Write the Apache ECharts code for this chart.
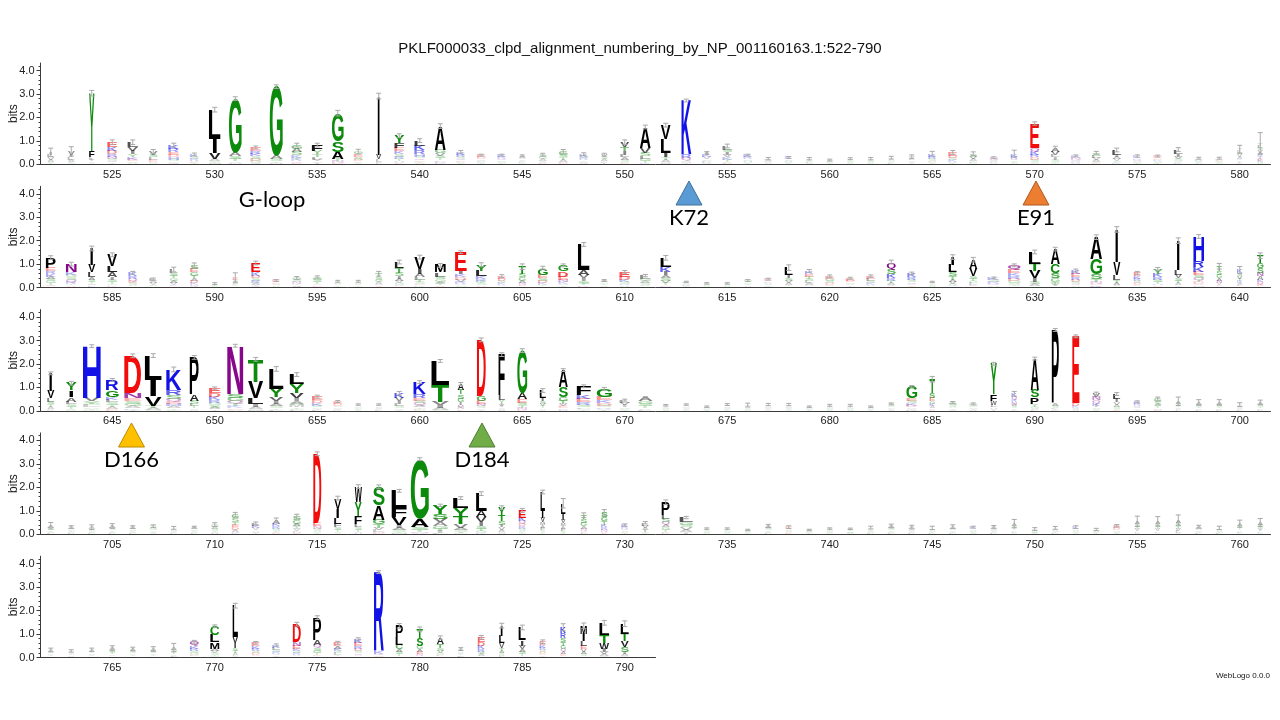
<!DOCTYPE html>
<html><head><meta charset="utf-8">
<script src="https://cdn.jsdelivr.net/npm/echarts@6/dist/echarts.min.js"></script>
<style>html,body{margin:0;padding:0;background:#fff}#chart{width:1280px;height:720px}</style>
</head><body><div id="chart"></div>
<script>
const chartTitle = 'PKLF000033_clpd_alignment_numbering_by_NP_001160163.1:522-790';
const rowStarts = [522, 582, 642, 702, 762];
const rowLengths = [60, 60, 60, 60, 30];
const yTicks = [0, 1, 2, 3, 4];

// stacks: letter + height (bits); err: half-width of error bar (bits); widths: relative stack width
const row1Stacks = [
"I.12 V.1 L.1 A.08 S.06 T.05","V.14 I.12 L.1 A.08 T.06 S.05","Y2.45 F.28 L.1 I.08 V.07 A.05",
"E.2 K.16 D.14 R.12 N.1 Q.08 S.08 T.06","L.2 V.18 I.14 Y.12 K.1 E.08 A.06 S.06","V.14 S.12 L.1 E.08 A.06 G.05",
"K.16 R.14 E.12 H.1 D.1 S.08 Q.06 G.06","K.1 R.08 S.08 E.06 A.06 T.04","L1.25 I.6 V.25 A.08 S.06 T.05 M.04",
"G2.3 A.15 S.12 T.1 C.07 N.06","E.14 K.12 R.12 D.1 S.1 G.08 Q.06","G2.95 A.14 S.1 T.07 N.05",
"G.16 S.14 A.14 K.1 R.08 T.08 E.06 Q.06","F.26 Y.14 T.12 L.1 V.08 I.06 S.06","G1.2 S.45 A.3 T.1 N.08 E.05",
"E.12 G.12 S.1 D.08 T.06 A.06","I2.5 V.2 L.1 M.06 F.05","Y.3 F.22 E.15 K.12 R.1 S.1 T.08 H.06 A.05 D.04",
"L.22 K.2 R.16 H.1 Q.08 S.08 T.06 E.06 A.05","A1.0 G.16 V.12 S.1 T.08 N.06 L.06 K.05","K.12 R.1 Q.08 S.08 E.06 A.05 T.04",
"E.1 D.08 K.06 S.06 A.05 T.04","K.1 R.08 S.06 Q.06 A.05 T.04","A.08 S.07 T.06 V.06 L.05 G.04",
"S.1 A.08 G.08 T.06 V.05 E.04","G.14 S.12 T.1 A.08 N.06 E.05","K.1 R.08 S.08 A.06 T.06 Q.05",
"V.1 A.08 S.08 T.06 L.05 I.04","V.2 T.18 I.15 L.12 A.1 S.08 G.06 E.05","A.9 V.2 S.14 L.12 G.1 T.08 K.05",
"V.6 L.58 I.2 T.1 A.08 S.06 M.05","K2.3 R.15 Q.12 S.06 N.05 T.04","K.1 I.1 V.08 L.06 S.06 R.05 A.04",
"L.15 I.12 S.12 K.1 V.1 T.08 A.06 E.05","K.1 R.08 H.06 S.06 A.05 T.04","K.06 R.05 S.05 A.04 T.04",
"K.08 R.06 S.06 A.05 T.04","A.06 S.05 T.05 V.04 L.04","A.05 S.05 T.04 G.04",
"A.06 S.05 T.05 G.04 V.04","A.06 S.05 T.05 G.04 V.04","V.07 A.06 S.06 T.05 L.04",
"V.08 L.07 A.06 S.06 T.05","K.12 R.1 S.08 E.06 A.05 T.04","E.14 D.1 K.08 S.08 A.06 T.05",
"S.12 V.1 A.08 T.06 L.05 G.04","N.08 Q.06 K.05 S.05 A.04","K.12 R.1 Q.08 S.06 T.05 A.04",
"E1.03 Q.16 K.14 R.12 D.1 S.08 T.06 A.05","A.16 V.14 I.1 L.1 S.08 T.06 G.05","N.08 K.08 Q.06 R.05 S.05 A.04",
"S.12 L.1 A.08 V.08 T.06 E.05","L.2 I.1 V.08 A.08 S.06 T.05 K.04","K.08 R.07 Q.06 S.05 A.05 T.04",
"E.08 D.07 K.06 S.05 A.05 T.04","L.18 I.12 V.1 S.08 A.06 T.05 K.04","K.07 R.06 S.05 A.04 T.04",
"E.07 D.06 S.05 A.04 T.04","A.08 V.08 S.08 L.08 T.08 G.07 K.07 E.05 I.05","A.1 V.1 S.1 L.1 T.1 G.08 K.08 E.08 I.08 R.08"
];
const row1Err = [.18,.2,.12,.1,.1,.08,.08,.06,.1,.08,.06,.08,.08,.08,.12,.1,.12,.08,.08,.1,.06,.04,.04,.04,.06,.08,.06,.06,.1,.08,
.08,.06,.05,.08,.04,.05,.04,.05,.04,.04,.05,.06,.08,.1,.08,.08,.04,.15,.07,.08,.04,.06,.08,.05,.04,.08,.04,.04,.17,.45];
const row1Widths = [.4,.4,.3,.55,.6,.5,.6,.5,.65,.7,.6,.72,.6,.6,.65,.5,.3,.55,.6,.6,.5,.5,.5,.4,.45,.5,.5,.4,.5,.6,
.55,.55,.55,.55,.5,.45,.45,.4,.4,.4,.4,.4,.35,.45,.5,.45,.45,.4,.5,.5,.55,.5,.5,.5,.5,.5,.45,.45,.3,.3];

const row2Stacks = [
"P.43 E.14 K.12 R.12 S.1 A.1 T.08 G.08 Q.06 D.05","N.35 K.12 Q.1 S.1 G.1 R.08 T.06 A.05 E.04","I.7 V.3 L.22 A.12 S.1 T.08 M.06 F.05 K.04",
"V.5 L.25 A.2 I.12 S.1 T.08 G.06 K.05 E.04","K.14 R.12 Q.1 S.08 E.08 A.06 T.05","L.1 V.08 A.08 S.06 T.05",
"L.14 T.12 S.12 A.1 G.1 V.08 K.06 E.05","S.16 G.14 E.14 T.12 D.1 A.1 K.08 N.06 Q.05","A.05 S.04 G.04 T.04",
"E.1 A.08 S.08 T.06 L.06 G.05","E.4 K.14 D.12 R.1 S.1 A.08 T.06 Q.05","E.08 D.07 S.06 A.05 T.04",
"G.1 N.08 S.08 T.06 A.05 Q.04","G.12 S.1 T.08 A.06 E.05 N.04","G.07 S.06 T.05 A.05 V.04",
"A.07 S.06 T.05 V.05 L.04","T.14 S.12 G.1 A.08 N.06 V.05 E.04","L.25 T.2 S.15 I.12 A.1 G.08 V.08 K.06 E.05",
"V.5 I.2 A.15 L.12 T.1 S.08 E.06 K.05 G.04","M.3 L.18 S.12 G.1 T.08 A.08 V.05 E.04","E.8 I.15 K.12 V.1 D.1 R.08 S.06 A.06 T.04",
"Y.26 L.24 K.12 R.1 S.08 T.08 A.06 E.04","E.12 D.1 K.08 S.08 A.06 T.05","T.3 S.16 G.14 A.1 N.08 E.06 V.05",
"G.3 E.14 S.12 D.1 K.08 T.06 A.05","G.26 D.22 E.14 N.1 K.08 S.06 T.05 A.04","L1.1 A.2 V.15 I.12 S.1 T.08 K.05 E.04",
"A.08 S.07 T.06 V.05 L.04","E.2 D.14 K.1 S.08 R.06 A.05 T.04","L.14 G.1 S.08 A.08 V.06 T.05",
"L.4 K.2 I.15 S.12 A.12 V.1 T.08 E.06 R.04","K.06 R.05 S.05 A.04 T.04","A.05 S.05 T.04 G.04",
"A.05 S.05 T.04 G.04","G.08 S.07 T.06 A.05 N.04","E.08 K.07 S.06 A.06 T.05 L.04",
"L.3 I.14 S.12 V.1 A.08 T.06 G.05","E.12 K.12 S.1 T.1 A.08 L.08 G.06 R.05","E.12 G.1 D.08 S.08 A.06 T.05",
"E.1 D.08 S.07 A.06 T.05 K.04","E.12 L.1 K.08 S.08 A.06 T.05","Q.3 S.2 K.18 R.12 T.1 A.08 V.06 E.05",
"K.16 R.12 S.1 Q.08 A.06 T.05 E.04","A.06 S.05 T.05 G.04 V.04","I.34 L.3 S.18 T.14 V.1 A.1 G.08 K.06",
"A.4 V.3 S.12 T.1 L.08 G.08 K.06 E.05","K.1 R.08 S.08 Q.06 A.05 T.04","Q.2 E.14 R.12 K.12 D.1 S.08 G.08 T.06 A.05",
"L.5 T.33 V.3 I.15 S.1 A.08 G.06","A.65 C.38 S.22 G.14 T.12 V.08 L.05","E.14 K.14 R.12 D.1 S.08 Q.06 A.05 T.04",
"A.95 G.65 S.2 T.12 N.08 E.06 K.05 Q.04","I1.4 V.55 L.2 T.12 A.1 S.06 M.05","E.14 K.12 R.1 D.08 S.08 A.06 T.05",
"Y.2 K.15 R.12 S.1 T.08 H.06 A.05 E.04","I1.25 L.2 V.15 S.12 T.1 A.08 G.06 K.04","H1.05 R.25 K.2 E.15 S.12 Q.1 D.08 T.08 A.06 N.05 G.04",
"T.2 S.16 G.14 A.12 N.1 V.08 E.06 K.05","K.14 V.12 S.12 T.1 A.08 R.08 L.06 E.05","T.3 G.22 S.2 N.16 A.14 Q.1 K.1 E.08 V.06"
];
const row2Err = [.08,.08,.1,.08,.06,.04,.1,.1,.04,.2,.08,.04,.06,.05,.04,.04,.1,.08,.08,.08,.06,.08,.06,.12,.06,.06,.08,.04,.06,.05,
.1,.03,.03,.03,.04,.04,.12,.06,.05,.04,.05,.08,.05,.03,.1,.1,.04,.06,.08,.08,.06,.1,.12,.06,.06,.12,.08,.12,.15,.12];
const row2Widths = [.55,.6,.4,.55,.5,.45,.45,.45,.4,.3,.5,.45,.5,.5,.45,.4,.4,.5,.6,.6,.65,.6,.45,.4,.55,.55,.65,.45,.6,.6,
.6,.45,.4,.4,.45,.45,.45,.5,.5,.5,.5,.5,.5,.4,.45,.45,.7,.7,.65,.5,.5,.65,.4,.4,.55,.4,.6,.3,.3,.35];

const row3Stacks = [
"I.75 V.3 L.15 S.12 T.1 A.08 G.06 K.04","Y.31 I.29 A.18 L.12 S.1 T.08 V.06 G.04","H2.2 V.15 Y.1 L.08 S.08 A.06 T.05 G.04",
"R.42 G.3 L.12 K.12 S.1 A.08 T.08 E.06 D.04","D1.6 N.22 S.12 E.12 G.1 A.08 K.06 T.05","L1.03 I.7 V.4 T.1 A.08 S.05",
"K.9 R.2 S.16 Q.12 H.1 E.1 A.08 T.06 G.05","P1.6 A.25 S.14 L.1 T.08 V.06 G.05","E.2 D.16 K.14 R.12 S.1 G.1 A.08 T.06",
"N2.05 S.18 G.14 Q.12 T.1 K.08 E.06 A.05","T.95 V.7 L.25 I.12 A.08 S.06 M.04","L.85 Y.35 V.18 I.12 A.1 S.08 T.06 F.05",
"L.42 Y.38 V.22 I.12 A.1 M.08 S.08 T.06 G.05 F.04","E.16 D.12 K.1 S.08 A.06 T.05 L.04","E.1 D.08 S.07 A.06 T.05 K.04",
"A.07 S.06 T.05 G.05 V.04","A.07 S.06 T.05 V.05 L.04","K.2 V.14 I.12 L.1 S.08 A.06 T.05",
"K.5 R.18 E.12 Q.1 S.1 A.08 T.06 D.05 G.04","L1.03 T.7 V.15 I.12 A.08 S.05","A.25 T.2 S.18 G.16 I.12 V.1 N.08 L.06",
"D2.4 G.2 E.14 N.1 S.08 A.06 T.05","F1.75 L.2 Y.12 I.1 V.08 S.06 A.05 M.04","G1.82 A.25 E.15 S.12 T.1 N.08 D.05",
"L.3 I.16 S.12 V.1 T.08 A.06 G.05","A.7 S.45 G.16 T.14 V.1 E.08 K.06 N.05","F.38 K.16 E.14 R.12 S.1 L.06 A.05 T.04",
"G.35 E.14 K.12 D.1 S.08 R.06 A.05 T.04","L.12 V.1 I.08 A.06 S.06 T.04","A.16 G.12 S.1 T.08 V.06 L.05",
"A.06 S.05 T.05 V.04 G.04","A.07 S.06 T.05 V.05 G.04","A.05 S.05 T.04 G.04",
"A.07 S.06 T.05 V.05 G.04","A.06 S.06 T.05 G.04 V.04","A.07 S.06 T.05 V.05 G.04",
"A.07 S.06 T.05 V.05 G.04","A.05 S.05 T.04 G.04","A.06 S.05 T.05 V.04 G.04",
"A.06 S.05 T.05 V.04 G.04","A.05 S.05 T.04 G.04","S.08 G.07 A.06 T.05 V.04",
"G.48 E.12 K.1 S.1 D.08 A.06 T.05 R.04","T.6 S.2 E.14 G.12 K.1 A.08 D.06 N.05","G.1 S.08 A.07 T.06 V.05",
"G.08 S.07 A.06 T.05 V.04","Y1.3 F.28 W.18 L.1 H.06 S.05 I.04","K.14 Q.12 N.1 R.1 S.08 A.08 T.06 E.05",
"A1.35 S.31 P.29 T.1 G.08 V.06 L.04","P3.15 A.1 S.08 L.05 T.04 E.03","E2.85 D.12 K.08 S.06 Q.04 A.03",
"V.15 N.14 Q.12 K.1 I.08 S.06 A.05 T.04","L.22 I.14 V.1 S.08 A.08 T.06 E.04","K.1 R.08 Q.06 S.06 A.05 T.04",
"G.14 S.1 T.08 A.08 N.06 E.05","A.1 S.08 T.07 V.06 L.05 G.05","A.1 S.08 T.07 V.06 L.05",
"A.1 S.08 T.07 V.06 L.05","A.07 S.06 T.05 V.05 L.04","A.1 S.08 T.07 V.06 L.05"
];
const row3Err = [.06,.08,.06,.06,.08,.08,.1,.08,.06,.06,.08,.1,.08,.06,.04,.03,.03,.08,.06,.06,.06,.08,.08,.08,.08,.06,.06,.06,.04,.04,
.03,.03,.03,.04,.08,.05,.05,.03,.04,.04,.03,.04,.05,.12,.04,.04,.06,.1,.06,.06,.06,.06,.06,.04,.08,.18,.12,.12,.08,.1];
const row3Widths = [.4,.6,1,.7,.95,.95,.85,.5,.65,.9,.85,.8,.8,.6,.5,.4,.4,.55,.7,1,.35,.5,.35,.55,.35,.5,.8,.85,.6,.8,
.4,.4,.4,.4,.4,.4,.4,.4,.4,.4,.4,.4,.6,.3,.45,.5,.35,.3,.45,.4,.4,.45,.4,.4,.4,.3,.35,.35,.35,.35];

const row4Stacks = [
"A.1 S.08 T.07 V.06 L.05","A.08 S.07 T.06 V.05 L.04","A.08 S.07 T.06 V.05 L.04",
"A.09 S.08 T.07 V.06 L.05","A.08 S.07 T.06 V.05 L.04","G.08 S.08 A.07 T.06 V.05",
"A.07 S.06 T.05 V.05 L.04","A.08 S.07 T.06 V.05 L.04","G.1 S.08 A.08 T.06 V.05 N.04",
"G.16 S.14 E.12 T.12 D.1 A.08 N.06 K.05","L.12 K.1 V.08 S.06 A.06 T.05","A.14 K.12 R.1 S.08 T.06 V.05 E.04",
"S.16 G.14 A.12 T.1 V.08 L.06 N.05 E.04","D2.95 E.15 N.1 S.08 G.06 A.05 T.04","V.45 I.4 L.25 F.15 S.1 T.08 A.06 Y.05",
"W.65 Y.6 F.35 L.14 S.1 T.08 A.06 H.05","S.8 A.6 G.2 T.14 V.1 L.08 N.06 E.04","L.75 F.36 V.34 I.12 A.1 S.08 T.06 M.04",
"G2.55 A.35 S.12 T.08 N.06 V.04","Y.35 S.22 V.16 A.14 G.12 T.1 I.08 L.06","L.42 Y.4 T.3 V.14 A.1 S.08 I.06 G.04",
"L.75 A.25 V.22 I.15 S.12 T.1 G.08 K.06","Y.3 T.26 S.16 I.12 V.1 A.08 G.06 N.05","E.3 K.16 Q.12 R.1 D.1 S.08 A.06 T.05 G.04",
"L.8 I.3 V.2 M.12 F.1 A.1 S.08 T.06 C.04","L.45 I.25 V.16 M.12 F.1 A.1 S.08 T.06","T.18 S.16 G.14 A.1 N.08 V.06 E.05 L.04",
"S.2 G.18 T.14 K.12 R.1 N.08 A.06 E.05","K.1 R.08 S.06 Q.06 A.05 T.04","L.12 V.1 I.08 A.08 S.06 T.05",
"P.55 L.16 S.14 Q.12 G.1 A.1 T.08 E.06 K.05","L.2 G.12 V.1 S.1 A.08 T.06 I.05","A.06 S.05 T.05 G.04 V.04",
"A.06 S.05 T.05 G.04 V.04","A.05 S.05 T.04 G.04","A.09 S.08 T.07 V.06 L.05",
"E.08 S.07 A.06 T.05 D.04","A.05 S.05 T.04 G.04","A.06 S.05 T.05 G.04 V.04",
"A.06 S.05 T.05 G.04 V.03","A.07 S.06 T.06 V.05 L.04","A.09 S.08 T.07 V.06 L.05",
"A.08 S.07 T.06 V.05 L.04","A.07 S.06 T.05 V.05 L.04","A.08 S.07 T.06 V.06 L.05",
"K.08 A.07 S.06 T.05 V.04","A.08 S.07 T.06 V.05 L.04","A.1 S.09 T.08 V.07 L.06 G.05",
"A.06 S.05 T.04 G.04 V.03","A.07 S.06 T.05 V.05 L.04","K.08 S.07 A.06 T.05 V.04",
"A.05 S.05 T.04 G.04 V.02","E.1 D.08 S.07 A.06 T.05","A.12 S.11 T.1 V.09 L.07 G.06",
"A.12 S.11 T.1 V.09 L.07 G.06","A.13 S.12 T.11 V.1 L.08 G.06","A.08 S.07 T.06 V.06 L.05",
"A.07 S.06 T.05 V.05 L.04","A.1 S.09 T.08 V.07 L.06 G.05","A.11 S.1 T.09 V.08 L.07 G.05"
];
const row4Err = [.14,.06,.1,.1,.06,.06,.06,.04,.08,.1,.05,.1,.1,.08,.08,.08,.08,.06,.06,.05,.06,.08,.08,.08,.08,.2,.1,.12,.05,.05,
.1,.05,.03,.03,.03,.07,.06,.03,.03,.03,.06,.08,.08,.07,.08,.04,.07,.18,.06,.06,.06,.05,.05,.22,.2,.22,.06,.07,.15,.17];
const row4Widths = [.4,.4,.4,.4,.4,.4,.4,.4,.4,.4,.45,.45,.45,.45,.4,.4,.65,.85,1,.85,.85,.6,.4,.4,.25,.25,.35,.35,.4,.4,
.45,.75,.4,.4,.4,.4,.4,.4,.4,.4,.4,.4,.4,.4,.4,.4,.4,.3,.4,.4,.4,.4,.4,.3,.3,.3,.4,.4,.3,.3];

const row5Stacks = [
"A.08 S.07 T.06 V.06 L.05","A.07 S.06 T.06 V.05 L.04","A.08 S.07 T.07 V.06 L.05",
"A.1 S.09 T.08 V.07 L.06","A.09 S.08 T.07 V.07 L.05","A.09 S.08 T.07 V.07 L.05",
"A.1 S.09 T.08 V.07 L.05 G.03","Q.18 K.12 R.1 G.08 S.08 E.06 A.05","C.38 L.3 M.28 A.1 S.08 V.08 T.06 G.05",
"L1.35 V.25 I.2 S.12 T.1 A.08 F.06 G.05","E.14 K.12 R.1 D.08 S.08 A.06 T.05","K.12 L.1 R.08 S.08 A.06 T.05 V.04",
"D.75 N.16 E.14 K.1 R.08 S.08 A.06 T.05","P.95 A.2 Q.14 S.12 G.1 T.08 E.06 K.05","E.14 A.12 K.1 L.08 S.08 T.06 D.05",
"K.16 E.14 R.12 D.1 Q.08 S.08 A.06 T.05","R3.35 K.12 Q.08 S.05 E.04","P.5 L.3 C.2 A.12 S.1 T.08 V.05",
"T.36 S.34 G.14 A.12 E.1 N.08 K.06","A.25 T.18 S.12 V.1 G.08 L.06 E.05","A.08 S.07 T.06 V.06 L.05 G.04",
"E.2 D.16 K.14 R.12 S.1 A.08 T.06","I.45 L.3 V.2 T.12 A.1 S.08 M.06 F.05","L.55 I.22 V.16 A.12 S.1 T.08 K.05",
"E.14 K.12 R.1 D.08 S.08 A.06 T.05 L.04","K.25 R.2 S.18 T.16 G.14 Q.12 A.1 E.08 N.06","M.35 I.3 L.2 E.14 V.12 A.1 S.08 T.06",
"L.5 T.35 W.25 I.14 V.1 A.08 S.06","L.45 T.3 V.25 S.2 I.1 A.08 G.06",""
];
const row5Err = [.08,.05,.07,.1,.08,.1,.18,.06,.06,.1,.05,.05,.08,.08,.06,.05,.06,.1,.1,.08,.06,.08,.1,.1,.08,.15,.12,.1,.12,0];
const row5Widths = [.35,.35,.35,.35,.35,.35,.35,.5,.5,.3,.45,.45,.45,.45,.45,.45,.55,.4,.35,.4,.35,.4,.3,.4,.35,.3,.35,.55,.45,0];

const allStacks = [row1Stacks, row2Stacks, row3Stacks, row4Stacks, row5Stacks];
const allErr = [row1Err, row2Err, row3Err, row4Err, row5Err];
const allWidths = [row1Widths, row2Widths, row3Widths, row4Widths, row5Widths];

// ---------- layout ----------
const gridLeft = 40.5, bandW = 20.5, gridH = 101.3;
const baselines = [164.3, 287.6, 410.9, 534.2, 657.5];
const BITS_MAX = 4.32;
const FULL_LETTER_W = 18;

const FONT_FAMILY = 'Liberation Sans';
const FONT_SIZE = 100;
const mctx = document.createElement('canvas').getContext('2d');
mctx.font = 'bold ' + FONT_SIZE + 'px "' + FONT_FAMILY + '"';
mctx.textAlign = 'center';
mctx.textBaseline = 'middle';
const metricCache = {};
function metrics(ch) {
  if (!metricCache[ch]) {
    const m = mctx.measureText(ch);
    metricCache[ch] = {l: m.actualBoundingBoxLeft, r: m.actualBoundingBoxRight,
                       a: m.actualBoundingBoxAscent, d: m.actualBoundingBoxDescent};
  }
  return metricCache[ch];
}
function colorOf(ch) {
  if ('GSTYC'.includes(ch)) return '#0b8a0b';
  if ('NQ'.includes(ch)) return '#86078a';
  if ('KRH'.includes(ch)) return '#1212e6';
  if ('DE'.includes(ch)) return '#f20c0c';
  return '#000000';
}
function parseStack(s) {
  const out = [];
  const re = /([A-Z])([\d.]+)/g;
  let m;
  while ((m = re.exec(s))) out.push({ch: m[1], h: parseFloat(m[2])});
  return out;
}

function makeRender(stacks, errs, widths) {
  return function (params, api) {
    const i = params.dataIndex;
    const items = parseStack(stacks[i]).sort((a, b) => a.h - b.h);
    const base = api.coord([i, 0]);
    const cx = base[0], y0 = base[1];
    const unit = api.size([0, 1])[1];
    const stackW = FULL_LETTER_W * widths[i];
    const children = [];
    let cum = 0;
    items.forEach(it => {
      const hpx = it.h * unit;
      const w = stackW * (it.ch === 'I' ? 0.35 : 1);
      const m = metrics(it.ch);
      const sx = w / (m.l + m.r), sy = hpx / (m.a + m.d);
      const top = y0 - (cum + it.h) * unit;
      const left = cx - w / 2;
      const op = Math.min(1, Math.max(0.16, (it.h - 0.03) * 4));
      children.push({
        type: 'text', x: left + m.l * sx, y: top + m.a * sy, scaleX: sx, scaleY: sy, silent: true,
        style: {text: it.ch, fontSize: FONT_SIZE, fontWeight: 'bold', fontFamily: FONT_FAMILY,
                fill: colorOf(it.ch), opacity: op, align: 'center', verticalAlign: 'middle',
                textAlign: 'center', textVerticalAlign: 'middle'}
      });
      cum += it.h;
    });
    const e = errs[i];
    if (e > 0) {
      const yt = y0 - (cum + e) * unit, yb = y0 - Math.max(0, cum - e) * unit;
      const cw = 2.5;
      const st = {stroke: '#a9a9a9', lineWidth: 1};
      children.push({type: 'line', silent: true, shape: {x1: cx, y1: yt, x2: cx, y2: yb}, style: st});
      children.push({type: 'line', silent: true, shape: {x1: cx - cw, y1: yt, x2: cx + cw, y2: yt}, style: st});
      children.push({type: 'line', silent: true, shape: {x1: cx - cw, y1: yb, x2: cx + cw, y2: yb}, style: st});
    }
    return {type: 'group', children: children};
  };
}

const grids = [], xAxes = [], yAxes = [], series = [];
for (let r = 0; r < 5; r++) {
  const cats = [];
  for (let k = 0; k < rowLengths[r]; k++) cats.push(String(rowStarts[r] + k));
  grids.push({left: gridLeft, top: baselines[r] - gridH, width: bandW * rowLengths[r], height: gridH,
              containLabel: false, outerBoundsMode: 'none'});
  xAxes.push({
    type: 'category', gridIndex: r, data: cats, boundaryGap: true,
    axisLine: {lineStyle: {color: '#3a3a3a', width: 1}},
    axisTick: {interval: 0, alignWithLabel: true, length: 3, lineStyle: {color: '#3a3a3a'}},
    axisLabel: {interval: (idx, v) => (+v) % 5 === 0, fontSize: 11, color: '#222', margin: 5,
                fontFamily: FONT_FAMILY},
    splitLine: {show: false}
  });
  yAxes.push({
    type: 'value', gridIndex: r, min: 0, max: BITS_MAX, interval: 1,
    name: 'bits', nameLocation: 'middle', nameGap: 21, nameRotate: 90, nameMoveOverlap: false,
    nameTextStyle: {fontSize: 12, color: '#222', fontFamily: FONT_FAMILY},
    axisLine: {show: true, lineStyle: {color: '#3a3a3a', width: 1}},
    axisTick: {show: true, length: 4, customValues: yTicks, lineStyle: {color: '#3a3a3a'}},
    minorTick: {show: true, splitNumber: 5, length: 2, lineStyle: {color: '#3a3a3a'}},
    axisLabel: {customValues: yTicks, formatter: v => v.toFixed(1), fontSize: 11, color: '#222',
                margin: 6, fontFamily: FONT_FAMILY},
    splitLine: {show: false}
  });
  series.push({
    type: 'custom', xAxisIndex: r, yAxisIndex: r, silent: true, clip: false, animation: false,
    data: cats.map((c, k) => [k, 0]),
    encode: {x: 0, y: 1},
    renderItem: makeRender(allStacks[r], allErr[r], allWidths[r])
  });
}

const annFont = 'Lato';
const annotations = [
  {label: 'K72', x: 689, ty: 181, fill: '#5B9BD5', stroke: '#41719C'},
  {label: 'E91', x: 1036, ty: 181, fill: '#ED7D31', stroke: '#AE5A21'},
  {label: 'D166', x: 131.5, ty: 423, fill: '#FFC000', stroke: '#BC8C00'},
  {label: 'D184', x: 482, ty: 423, fill: '#70AD47', stroke: '#507E32'}
];
const graphic = [];
annotations.forEach(a => {
  graphic.push({type: 'polygon', silent: true,
    shape: {points: [[a.x, a.ty], [a.x - 13, a.ty + 24], [a.x + 13, a.ty + 24]]},
    style: {fill: a.fill, stroke: a.stroke, lineWidth: 1}});
  graphic.push({type: 'text', silent: true, x: a.x, y: a.ty + 37,
    style: {text: a.label, fontSize: 22, fontFamily: annFont, fill: '#000',
            align: 'center', verticalAlign: 'middle', textAlign: 'center', textVerticalAlign: 'middle'}});
});
graphic.push({type: 'text', silent: true, x: 272, y: 200,
  style: {text: 'G-loop', fontSize: 22, fontFamily: annFont, fill: '#000',
          align: 'center', verticalAlign: 'middle', textAlign: 'center', textVerticalAlign: 'middle'}});
graphic.push({type: 'text', silent: true, x: 1270, y: 676,
  style: {text: 'WebLogo 0.0.0', fontSize: 8, fontFamily: FONT_FAMILY, fill: '#111',
          align: 'right', verticalAlign: 'middle', textAlign: 'right', textVerticalAlign: 'middle'}});

const chart = echarts.init(document.getElementById('chart'), null, {renderer: 'canvas'});
chart.setOption({
  animation: false,
  backgroundColor: '#ffffff',
  title: {text: chartTitle, left: 'center', top: 36,
          textStyle: {fontSize: 15, fontWeight: 'normal', color: '#111', fontFamily: FONT_FAMILY}},
  grid: grids, xAxis: xAxes, yAxis: yAxes, series: series, graphic: graphic
});
</script></body></html>
